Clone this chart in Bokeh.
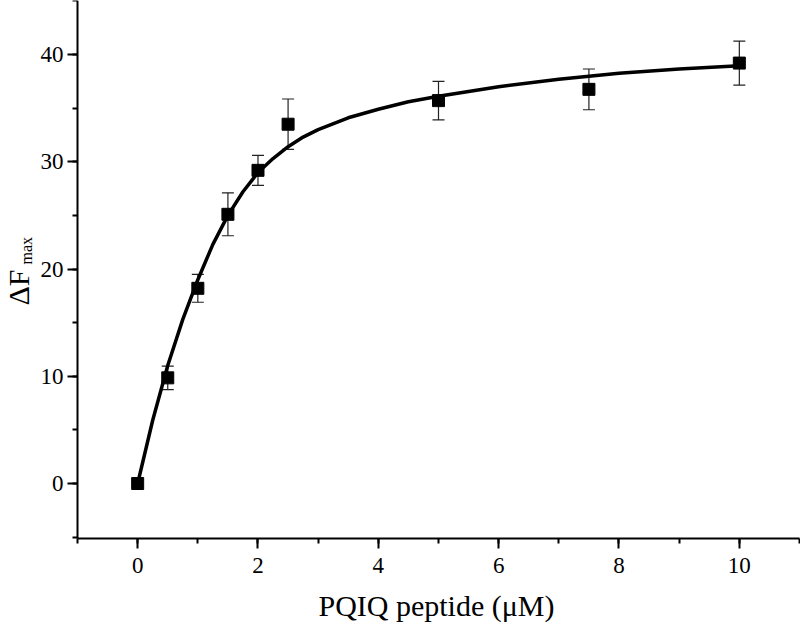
import math
from bokeh.plotting import figure
from bokeh.models import (Label, Whisker, TeeHead, ColumnDataSource, Range1d,
                          SingleIntervalTicker)
from bokeh.embed import file_html
from bokeh.resources import INLINE

# measured data
conc = [0, 0.5, 1, 1.5, 2, 2.5, 5, 7.5, 10]
dF = [0.0, 9.85, 18.2, 25.1, 29.2, 33.5, 35.7, 36.75, 39.2]
err = [0.0, 1.1, 1.3, 2.0, 1.4, 2.35, 1.8, 1.9, 2.05]

# fitted curve
fit_x = [0, 0.25, 0.5, 0.75, 1, 1.25, 1.5, 1.75, 2, 2.25, 2.5, 2.75, 3, 3.5, 4, 4.5,
         5, 6, 7, 8, 9, 10]
fit_y = [0.0, 5.9, 11.0, 15.3, 19.0, 22.3, 25.0, 27.2, 29.0, 30.3, 31.4, 32.3, 33.0,
         34.1, 34.9, 35.6, 36.1, 37.0, 37.7, 38.25, 38.65, 38.95]

x_label = "PQIQ peptide (μM)"
y_main = "ΔF"
y_sub = "max"

FONT = "Liberation Serif"

# frame fills the whole canvas; axes are pinned at data positions
SX = 60.17    # px per x unit
SY = 10.725   # px per y unit
X0 = -1 - 77 / SX
X1 = 11 + 1 / SX
Y1 = 483 / SY
Y0 = -(622 - 483) / SY
XAX = -(538 - 483) / SY   # y-value where the x axis sits

p = figure(width=800, height=622, output_backend="svg", toolbar_location=None,
           x_range=Range1d(X0, X1), y_range=Range1d(Y0, Y1),
           min_border_left=0, min_border_right=0, min_border_top=0,
           min_border_bottom=0)
p.outline_line_color = None
p.grid.visible = False
p.background_fill_color = "white"
p.border_fill_color = "white"

p.xaxis.ticker = SingleIntervalTicker(interval=2, num_minor_ticks=2)
p.yaxis.ticker = SingleIntervalTicker(interval=10, num_minor_ticks=2)
p.yaxis.fixed_location = -1
p.xaxis.fixed_location = XAX
p.xaxis.bounds = (-1, 11)
p.yaxis.bounds = (XAX, 45)

for ax in (p.xaxis[0], p.yaxis[0]):
    ax.axis_line_width = 2
    ax.axis_line_color = "black"
    ax.major_tick_line_width = 2
    ax.minor_tick_line_width = 2
    ax.major_tick_line_color = "black"
    ax.minor_tick_line_color = "black"
    ax.major_tick_in = 0
    ax.major_tick_out = 10
    ax.minor_tick_in = 0
    ax.minor_tick_out = 5
    ax.major_label_text_font = FONT
    ax.major_label_text_font_size = "23px"
    ax.major_label_text_color = "black"
p.yaxis.major_label_standoff = 4
p.xaxis.major_label_standoff = 9

# curve
p.line(fit_x, fit_y, line_width=3.5, line_color="black", line_join="round")

# error bars
src = ColumnDataSource(dict(x=conc, y=dF))
src_eb = ColumnDataSource(dict(x=conc[1:], lo=[v - e for v, e in zip(dF[1:], err[1:])],
                               hi=[v + e for v, e in zip(dF[1:], err[1:])]))
wh = Whisker(source=src_eb, base="x", lower="lo", upper="hi",
             line_color="#222222", line_width=1.2,
             upper_head=TeeHead(size=12, line_width=1.2, line_color="#222222"),
             lower_head=TeeHead(size=12, line_width=1.2, line_color="#222222"))
p.add_layout(wh)

p.scatter("x", "y", source=src, marker="square", size=12, color="black")

# x axis title
p.add_layout(Label(x=X0 + 436 / SX, y=-(605 - 483) / SY, text=x_label,
                   text_font=FONT, text_font_size="30px", text_color="black",
                   text_baseline="alphabetic", text_align="center"))

# y label as rotated text with subscript
p.add_layout(Label(x=X0 + 18.5 / SX, y=(483 - 305) / SY, text=y_main, angle=math.pi / 2,
                   text_font=FONT, text_font_size="30px", text_color="black",
                   text_baseline="alphabetic", text_align="left"))
p.add_layout(Label(x=X0 + 26.5 / SX, y=(483 - 264) / SY, text=y_sub, angle=math.pi / 2,
                   text_font=FONT, text_font_size="16px", text_color="black",
                   text_baseline="alphabetic", text_align="left"))

open("out.html", "w").write(file_html(p, INLINE))
